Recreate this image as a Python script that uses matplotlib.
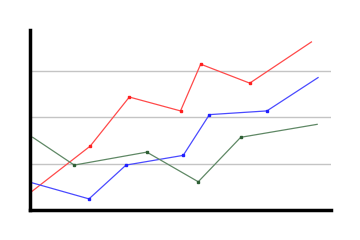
import matplotlib
matplotlib.use("Agg")
from matplotlib import pyplot as plt

# series data (x positions differ per series)
red_x = [0, 2.0, 3.3, 5.0, 5.67, 7.3, 9.35]
red_y = [0.37, 1.38, 2.44, 2.14, 3.15, 2.74, 3.63]
blue_x = [0, 1.96, 3.19, 5.09, 5.96, 7.87, 9.57]
blue_y = [0.6, 0.24, 0.97, 1.18, 2.06, 2.14, 2.86]
green_x = [0.09, 1.47, 3.88, 5.59, 7.0, 9.54]
green_y = [1.57, 0.97, 1.25, 0.61, 1.57, 1.85]
grid_levels = [1, 2, 3]

fig = plt.figure(figsize=(3.6, 2.4), dpi=100)
ax = fig.add_axes([30/360, 30/240, 301/360, 180/240])

for g in grid_levels:
    ax.axhline(g, color="#c4c4c4", lw=1.0, zorder=1)

# lines without the end markers at the first/last points
ax.plot(red_x, red_y, color="#ff4a4a", lw=0.9, zorder=3)
ax.plot(red_x[1:-1], red_y[1:-1], ls="none", marker="s", ms=1.6, color="#ff2020", zorder=4)
ax.plot(blue_x, blue_y, color="#4a4aff", lw=0.9, zorder=3)
ax.plot(blue_x[1:-1], blue_y[1:-1], ls="none", marker="s", ms=1.6, color="#2020ff", zorder=4)
ax.plot(green_x, green_y, color="#5f8865", lw=0.9, zorder=3)
ax.plot(green_x[1:-1], green_y[1:-1], ls="none", marker="s", ms=1.6, color="#2f5f35", zorder=4)

ax.set_xlim(0, 10)
ax.set_ylim(0, 180/46.3)
ax.set_xticks([])
ax.set_yticks([])
ax.spines["top"].set_visible(False)
ax.spines["right"].set_visible(False)
ax.spines["left"].set_linewidth(2.5)
ax.spines["bottom"].set_linewidth(2.5)
ax.spines["left"].set_zorder(5)
ax.spines["bottom"].set_zorder(5)

fig.savefig("out.png", dpi=100)
